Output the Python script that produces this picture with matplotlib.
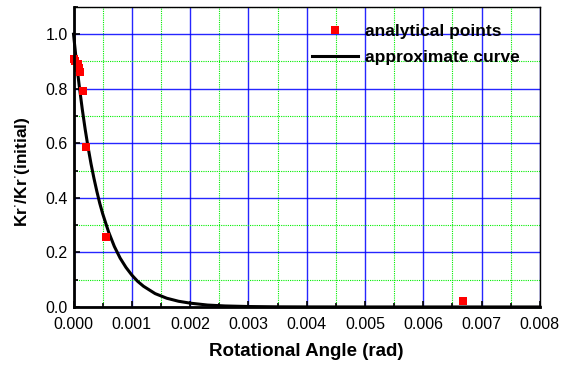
import matplotlib
matplotlib.use("Agg")
import matplotlib.pyplot as plt
from matplotlib.ticker import MultipleLocator, FormatStrFormatter

plt.rcParams['font.family'] = ['Liberation Sans', 'DejaVu Sans']

# analytical points
pts_x = [0.000000, 0.000030, 0.000080, 0.000100, 0.000110, 0.000166, 0.000210, 0.000550, 0.006680]
pts_y = [0.910, 0.900, 0.890, 0.875, 0.860, 0.790, 0.588, 0.255, 0.022]

# approximate curve
curve_x = [0.0, 0.00005, 0.0001, 0.00015, 0.0002, 0.00025, 0.0003, 0.00035, 0.0004,
           0.00045, 0.0005, 0.0006, 0.0007, 0.0008, 0.0009, 0.001, 0.0011, 0.0012,
           0.0014, 0.0016, 0.0018, 0.002, 0.0023, 0.0026, 0.003, 0.0035, 0.004,
           0.005, 0.006, 0.007, 0.008]
curve_y = [1.0, 0.898, 0.807, 0.725, 0.651, 0.585, 0.525, 0.472, 0.424,
           0.380, 0.342, 0.276, 0.222, 0.179, 0.145, 0.117, 0.094, 0.076,
           0.049, 0.032, 0.021, 0.014, 0.007, 0.0037, 0.0016, 0.0005, 0.0002,
           0.0, 0.0, 0.0, 0.0]

fig = plt.figure(figsize=(5.7, 3.65), dpi=100)
ax = fig.add_axes([0.129, 0.159, 0.818, 0.822])

ax.set_xlim(0, 0.008)
ax.set_ylim(0, 1.1)
ax.xaxis.set_major_locator(MultipleLocator(0.001))
ax.xaxis.set_minor_locator(MultipleLocator(0.0005))
ax.yaxis.set_major_locator(MultipleLocator(0.2))
ax.yaxis.set_minor_locator(MultipleLocator(0.1))
ax.xaxis.set_major_formatter(FormatStrFormatter('%.3f'))
ax.yaxis.set_major_formatter(FormatStrFormatter('%.1f'))

ax.grid(which='major', color='#0000ff', linewidth=1.0, alpha=0.85)
ax.grid(which='minor', color='#00ee00', linewidth=0.8, linestyle=(0, (1, 1)))
ax.set_axisbelow(True)

ax.plot(curve_x, curve_y, color='black', linewidth=2.2, label='approximate curve', zorder=3,
        clip_on=False)
ax.plot(pts_x, pts_y, linestyle='none', marker='s', markersize=5.4, color='#ff0000',
        markeredgewidth=0, label='analytical points', zorder=4, clip_on=False)

for s in ['left', 'bottom']:
    ax.spines[s].set_linewidth(2.0)
for s in ['top', 'right']:
    ax.spines[s].set_linewidth(1.0)
for sp in ax.spines.values():
    sp.set_zorder(5)

ax.tick_params(which='both', direction='in', top=False, right=False, labelsize=11.5,
               width=1.2)
ax.tick_params(which='major', length=4)
ax.tick_params(which='minor', length=3)
ax.tick_params(axis='x', which='both', pad=7)
ax.tick_params(axis='y', which='both', pad=4)

ax.set_xlabel('Rotational Angle (rad)', fontsize=13.5, fontweight='bold')
ax.xaxis.set_label_coords(0.5, -0.12)
ax.set_ylabel(r'Kr$^{\cdot}$/Kr$^{\cdot}$(initial)', fontsize=12.5, fontweight='bold')
ax.yaxis.set_label_coords(-0.09, 0.45)

h, l = ax.get_legend_handles_labels()
leg = ax.legend([h[1], h[0]], [l[1], l[0]], loc='upper right', frameon=False,
                prop={'weight': 'bold', 'size': 12.5},
                bbox_to_anchor=(0.984, 0.985), handlelength=2.7, handletextpad=0.4,
                labelspacing=0.62, borderaxespad=0.3)

fig.savefig('out.png', dpi=100)
